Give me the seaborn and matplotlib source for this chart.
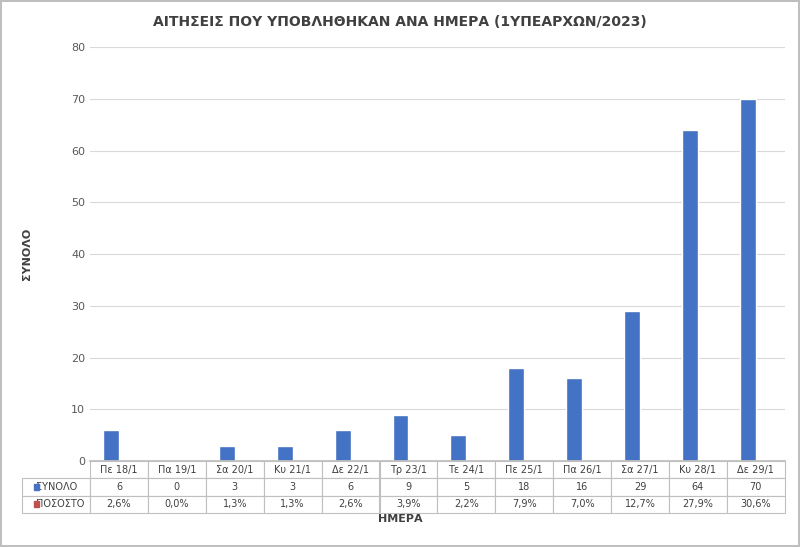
import matplotlib
matplotlib.use("Agg")
import matplotlib.pyplot as plt
import seaborn as sns
import pandas as pd
from matplotlib.patches import Rectangle

days = ["Πε 18/1","Πα 19/1","Σα 20/1","Κυ 21/1","Δε 22/1","Τρ 23/1","Τε 24/1","Πε 25/1","Πα 26/1","Σα 27/1","Κυ 28/1","Δε 29/1"]
total = [6,0,3,3,6,9,5,18,16,29,64,70]
pct = [2.6,0.0,1.3,1.3,2.6,3.9,2.2,7.9,7.0,12.7,27.9,30.6]
pct_labels = ["2,6%","0,0%","1,3%","1,3%","2,6%","3,9%","2,2%","7,9%","7,0%","12,7%","27,9%","30,6%"]

sns.set_theme(style="white")
plt.rcParams['font.family'] = ['DejaVu Sans']
blue, red = "#4472C4", "#C0504D"

df = pd.DataFrame({"day": days*2,
                   "value": total + [p/100 for p in pct],
                   "series": ["ΣΥΝΟΛΟ"]*12 + ["ΠΟΣΟΣΤΟ"]*12})

fig = plt.figure(figsize=(8, 5.47), dpi=100)
fig.patch.set_edgecolor("#bfbfbf"); fig.patch.set_linewidth(1.5)
ax = fig.add_axes([0.1125, 0.157, 0.8685, 0.757])
sns.barplot(data=df, x="day", y="value", hue="series", palette=[blue, red],
            width=0.55, saturation=1, ax=ax, legend=False)
ax.set_ylim(0, 80)
ax.set_yticks(range(0, 81, 10))
ax.tick_params(axis='y', labelsize=8, colors="#595959", length=0)
ax.set_xticks([]); ax.set_xlabel("")
ax.set_xlim(-0.5, 11.5)
ax.grid(axis='y', color="#d9d9d9", lw=0.8)
for s in ["top", "right", "left"]:
    ax.spines[s].set_visible(False)
ax.spines["bottom"].set_color("#bfbfbf")
ax.set_ylabel("ΣΥΝΟΛΟ", fontsize=8, fontweight="bold", color="#404040", labelpad=28)

tab = ax.table(cellText=[[str(v) for v in total], pct_labels],
               rowLabels=["ΣΥΝΟΛΟ", "ΠΟΣΟΣΤΟ"], colLabels=days,
               cellLoc="center", rowLoc="center", bbox=[0, -0.125, 1, 0.125])
tab.auto_set_font_size(False)
tab.set_fontsize(7)
for (r, c), cell in tab.get_celld().items():
    cell.set_edgecolor("#bfbfbf")
    cell.set_linewidth(0.8)
    cell.get_text().set_color("#404040")
    if c == -1:
        cell.set_width(0.086)
        cell.get_text().set_ha("left")
        cell.PAD = 0.2
for i, col in enumerate([blue, red]):
    y = -0.125 + 0.125*(1 - (i+1.5)/3)
    ax.add_patch(Rectangle((-0.081, y - 0.007), 0.008, 0.014, transform=ax.transAxes,
                           color=col, clip_on=False))

fig.text(0.5, 0.045, "ΗΜΕΡΑ", ha="center", fontsize=8, fontweight="bold", color="#404040")
fig.text(0.5, 0.952, "ΑΙΤΗΣΕΙΣ ΠΟΥ ΥΠΟΒΛΗΘΗΚΑΝ ΑΝΑ ΗΜΕΡΑ (1ΥΠΕΑΡΧΩΝ/2023)",
         ha="center", fontsize=10, fontweight="bold", color="#404040")
fig.savefig("out.png", dpi=100, edgecolor=fig.get_edgecolor())
